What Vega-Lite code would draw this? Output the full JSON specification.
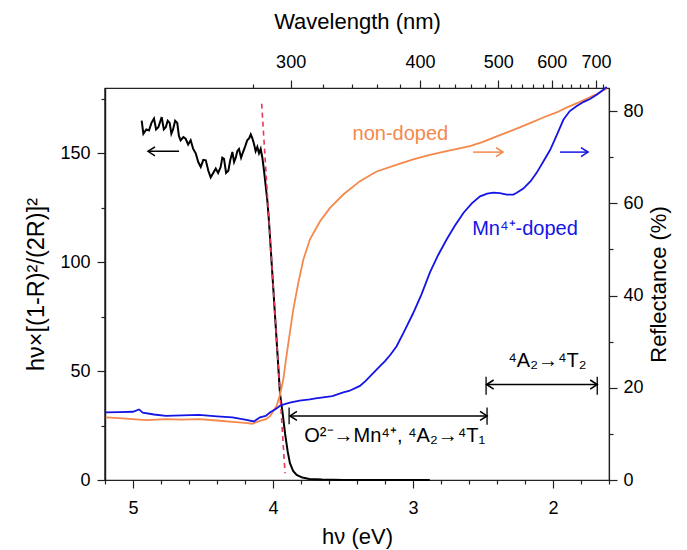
{
  "$schema": "https://vega.github.io/schema/vega-lite/v6.json",
  "width": 504,
  "height": 392,
  "autosize": {"type": "none"},
  "padding": {"left": 105, "top": 88, "right": 78, "bottom": 70},
  "background": "white",
  "config": {
    "view": {"stroke": "#222", "strokeWidth": 1.2},
    "font": "Liberation Sans",
    "axis": {
      "grid": false,
      "domain": true,
      "ticks": true,
      "domainColor": "#222",
      "domainWidth": 1.2,
      "tickColor": "#222",
      "tickWidth": 1.2,
      "tickSize": 8,
      "labelColor": "#000",
      "titleColor": "#000",
      "labelFont": "Liberation Sans",
      "titleFont": "Liberation Sans",
      "labelFontSize": 18,
      "titleFontSize": 22,
      "titleFontWeight": "normal",
      "labelOverlap": false,
      "labelFlush": false
    }
  },
  "datasets": {
    "km": [
      {"E": 4.938, "v": 165}, {"E": 4.926, "v": 159}, {"E": 4.905, "v": 161}, {"E": 4.886, "v": 160.5},
      {"E": 4.868, "v": 164}, {"E": 4.85, "v": 166}, {"E": 4.835, "v": 161}, {"E": 4.819, "v": 162},
      {"E": 4.795, "v": 166.6}, {"E": 4.78, "v": 161}, {"E": 4.766, "v": 162}, {"E": 4.752, "v": 165},
      {"E": 4.738, "v": 164}, {"E": 4.726, "v": 159}, {"E": 4.714, "v": 161}, {"E": 4.699, "v": 165},
      {"E": 4.684, "v": 164}, {"E": 4.672, "v": 158}, {"E": 4.66, "v": 156}, {"E": 4.64, "v": 157.5},
      {"E": 4.624, "v": 156.7}, {"E": 4.606, "v": 154}, {"E": 4.588, "v": 156}, {"E": 4.57, "v": 152},
      {"E": 4.552, "v": 150}, {"E": 4.534, "v": 146}, {"E": 4.516, "v": 143.7}, {"E": 4.498, "v": 147},
      {"E": 4.48, "v": 146.8}, {"E": 4.462, "v": 142}, {"E": 4.445, "v": 139}, {"E": 4.427, "v": 141},
      {"E": 4.409, "v": 143}, {"E": 4.392, "v": 141}, {"E": 4.374, "v": 143.7}, {"E": 4.362, "v": 148},
      {"E": 4.35, "v": 147.5}, {"E": 4.335, "v": 141}, {"E": 4.319, "v": 142}, {"E": 4.305, "v": 147},
      {"E": 4.29, "v": 150.6}, {"E": 4.278, "v": 146}, {"E": 4.266, "v": 148}, {"E": 4.255, "v": 151},
      {"E": 4.243, "v": 152}, {"E": 4.228, "v": 148}, {"E": 4.214, "v": 150.6}, {"E": 4.2, "v": 153},
      {"E": 4.184, "v": 156}, {"E": 4.17, "v": 157}, {"E": 4.159, "v": 158.7}, {"E": 4.148, "v": 157},
      {"E": 4.136, "v": 154.4}, {"E": 4.124, "v": 151}, {"E": 4.112, "v": 152.9}, {"E": 4.1, "v": 150},
      {"E": 4.088, "v": 152}, {"E": 4.076, "v": 148}, {"E": 4.064, "v": 142}, {"E": 4.052, "v": 135},
      {"E": 4.04, "v": 128}, {"E": 4.029, "v": 119}, {"E": 4.01, "v": 100}, {"E": 3.99, "v": 80},
      {"E": 3.97, "v": 60}, {"E": 3.95, "v": 39.7}, {"E": 3.93, "v": 30}, {"E": 3.914, "v": 21.4},
      {"E": 3.895, "v": 13}, {"E": 3.879, "v": 7.7}, {"E": 3.855, "v": 4}, {"E": 3.831, "v": 2.3},
      {"E": 3.79, "v": 1.1}, {"E": 3.74, "v": 0.5}, {"E": 3.65, "v": 0.2}, {"E": 3.5, "v": 0.05},
      {"E": 3.3, "v": 0}, {"E": 2.88, "v": 0}
    ],
    "tangent": [{"E": 4.081, "v": 172.8}, {"E": 3.914, "v": 3.1}],
    "frame": [{"E": 5.2}],
    "kmArrow": [{"s": "km", "E1": 4.671, "E2": 4.893, "v": 150.9, "dir": "left"}],
    "refl": [
      {"s": "non-doped", "E": 5.195, "R": 13.6}, {"s": "non-doped", "E": 5.1, "R": 13.4},
      {"s": "non-doped", "E": 5.005, "R": 13.2}, {"s": "non-doped", "E": 4.9, "R": 13.0},
      {"s": "non-doped", "E": 4.766, "R": 13.2}, {"s": "non-doped", "E": 4.65, "R": 13.1},
      {"s": "non-doped", "E": 4.53, "R": 13.2}, {"s": "non-doped", "E": 4.4, "R": 12.9},
      {"s": "non-doped", "E": 4.29, "R": 12.6}, {"s": "non-doped", "E": 4.2, "R": 12.4},
      {"s": "non-doped", "E": 4.148, "R": 12.2}, {"s": "non-doped", "E": 4.093, "R": 12.8},
      {"s": "non-doped", "E": 4.05, "R": 13.2}, {"s": "non-doped", "E": 4.02, "R": 13.9},
      {"s": "non-doped", "E": 3.974, "R": 16.1}, {"s": "non-doped", "E": 3.95, "R": 18.5},
      {"s": "non-doped", "E": 3.926, "R": 21.9}, {"s": "non-doped", "E": 3.91, "R": 25.5},
      {"s": "non-doped", "E": 3.89, "R": 29.8}, {"s": "non-doped", "E": 3.855, "R": 37},
      {"s": "non-doped", "E": 3.819, "R": 42.8}, {"s": "non-doped", "E": 3.783, "R": 47.8},
      {"s": "non-doped", "E": 3.736, "R": 52.2}, {"s": "non-doped", "E": 3.664, "R": 56.1},
      {"s": "non-doped", "E": 3.593, "R": 59}, {"s": "non-doped", "E": 3.498, "R": 61.9},
      {"s": "non-doped", "E": 3.379, "R": 64.8}, {"s": "non-doped", "E": 3.26, "R": 66.9},
      {"s": "non-doped", "E": 3.093, "R": 68.6}, {"s": "non-doped", "E": 2.998, "R": 69.5},
      {"s": "non-doped", "E": 2.88, "R": 70.5}, {"s": "non-doped", "E": 2.76, "R": 71.3},
      {"s": "non-doped", "E": 2.593, "R": 72.4}, {"s": "non-doped", "E": 2.5, "R": 73.3},
      {"s": "non-doped", "E": 2.402, "R": 74.5}, {"s": "non-doped", "E": 2.3, "R": 75.7},
      {"s": "non-doped", "E": 2.164, "R": 77.4}, {"s": "non-doped", "E": 2.07, "R": 78.6},
      {"s": "non-doped", "E": 1.974, "R": 79.7}, {"s": "non-doped", "E": 1.9, "R": 80.8},
      {"s": "non-doped", "E": 1.807, "R": 82.0}, {"s": "non-doped", "E": 1.7, "R": 83.5},
      {"s": "non-doped", "E": 1.616, "R": 84.9},
      {"s": "Mn-doped", "E": 5.195, "R": 14.65}, {"s": "Mn-doped", "E": 5.1, "R": 14.7},
      {"s": "Mn-doped", "E": 5.0, "R": 14.8}, {"s": "Mn-doped", "E": 4.957, "R": 15.3},
      {"s": "Mn-doped", "E": 4.93, "R": 14.6}, {"s": "Mn-doped", "E": 4.85, "R": 14.2},
      {"s": "Mn-doped", "E": 4.766, "R": 13.9}, {"s": "Mn-doped", "E": 4.65, "R": 14.0},
      {"s": "Mn-doped", "E": 4.53, "R": 14.1}, {"s": "Mn-doped", "E": 4.4, "R": 13.8},
      {"s": "Mn-doped", "E": 4.29, "R": 13.6}, {"s": "Mn-doped", "E": 4.2, "R": 13.1},
      {"s": "Mn-doped", "E": 4.136, "R": 12.7}, {"s": "Mn-doped", "E": 4.093, "R": 13.6},
      {"s": "Mn-doped", "E": 4.052, "R": 13.9}, {"s": "Mn-doped", "E": 4.02, "R": 14.7},
      {"s": "Mn-doped", "E": 3.98, "R": 15.4}, {"s": "Mn-doped", "E": 3.95, "R": 16.1},
      {"s": "Mn-doped", "E": 3.91, "R": 16.5}, {"s": "Mn-doped", "E": 3.879, "R": 16.8},
      {"s": "Mn-doped", "E": 3.81, "R": 17.2}, {"s": "Mn-doped", "E": 3.736, "R": 17.5},
      {"s": "Mn-doped", "E": 3.695, "R": 17.7}, {"s": "Mn-doped", "E": 3.576, "R": 18.2},
      {"s": "Mn-doped", "E": 3.498, "R": 19.0}, {"s": "Mn-doped", "E": 3.457, "R": 19.3},
      {"s": "Mn-doped", "E": 3.379, "R": 20.4}, {"s": "Mn-doped", "E": 3.338, "R": 21.5},
      {"s": "Mn-doped", "E": 3.236, "R": 24.7}, {"s": "Mn-doped", "E": 3.2, "R": 25.8},
      {"s": "Mn-doped", "E": 3.16, "R": 27.2}, {"s": "Mn-doped", "E": 3.117, "R": 29.0},
      {"s": "Mn-doped", "E": 3.06, "R": 32.4}, {"s": "Mn-doped", "E": 3.0, "R": 36.1},
      {"s": "Mn-doped", "E": 2.94, "R": 40.2},
      {"s": "Mn-doped", "E": 2.879, "R": 45}, {"s": "Mn-doped", "E": 2.82, "R": 48.8},
      {"s": "Mn-doped", "E": 2.759, "R": 52.2}, {"s": "Mn-doped", "E": 2.7, "R": 55.2},
      {"s": "Mn-doped", "E": 2.64, "R": 57.9}, {"s": "Mn-doped", "E": 2.58, "R": 60},
      {"s": "Mn-doped", "E": 2.521, "R": 61.5}, {"s": "Mn-doped", "E": 2.47, "R": 62.1},
      {"s": "Mn-doped", "E": 2.426, "R": 62.3}, {"s": "Mn-doped", "E": 2.38, "R": 62.2},
      {"s": "Mn-doped", "E": 2.33, "R": 61.9}, {"s": "Mn-doped", "E": 2.283, "R": 61.9},
      {"s": "Mn-doped", "E": 2.259, "R": 62.3}, {"s": "Mn-doped", "E": 2.212, "R": 63.2},
      {"s": "Mn-doped", "E": 2.16, "R": 64.8}, {"s": "Mn-doped", "E": 2.117, "R": 66.6},
      {"s": "Mn-doped", "E": 2.07, "R": 69}, {"s": "Mn-doped", "E": 2.02, "R": 71.6},
      {"s": "Mn-doped", "E": 1.97, "R": 75}, {"s": "Mn-doped", "E": 1.926, "R": 78.1},
      {"s": "Mn-doped", "E": 1.88, "R": 80.0}, {"s": "Mn-doped", "E": 1.83, "R": 81.1},
      {"s": "Mn-doped", "E": 1.78, "R": 82.0}, {"s": "Mn-doped", "E": 1.736, "R": 82.6},
      {"s": "Mn-doped", "E": 1.68, "R": 83.7}, {"s": "Mn-doped", "E": 1.616, "R": 85.2}
    ],
    "shafts": [
      {"s": "non-doped", "E1": 2.571, "E2": 2.357, "R": 71.1},
      {"s": "Mn-doped", "E1": 1.95, "E2": 1.75, "R": 71.1},
      {"s": "note", "E1": 3.879, "E2": 2.471, "R": 13.9},
      {"s": "note", "E1": 2.474, "E2": 1.684, "R": 20.7}
    ],
    "heads": [
      {"s": "non-doped", "E": 2.357, "R": 71.1, "dir": "right"},
      {"s": "Mn-doped", "E": 1.75, "R": 71.1, "dir": "right"},
      {"s": "note", "E": 3.879, "R": 13.9, "dir": "left"},
      {"s": "note", "E": 2.471, "R": 13.9, "dir": "right"},
      {"s": "note", "E": 2.474, "R": 20.7, "dir": "left"},
      {"s": "note", "E": 1.684, "R": 20.7, "dir": "right"}
    ],
    "bars": [
      {"s": "note", "E": 3.885, "lo": 12.1, "hi": 15.7},
      {"s": "note", "E": 2.471, "lo": 12.0, "hi": 15.7},
      {"s": "note", "E": 2.478, "lo": 18.5, "hi": 22.4},
      {"s": "note", "E": 1.684, "lo": 18.5, "hi": 22.4}
    ],
    "labels": [
      {"t": "non-doped", "E": 3.09, "R": 75, "s": "non-doped"},
      {"t": "Mn⁴⁺-doped", "E": 2.2, "R": 54.5, "s": "Mn-doped"},
      {"t": "O²⁻→Mn⁴⁺, ⁴A₂→⁴T₁", "E": 3.13, "R": 9.5, "s": "note"},
      {"t": "⁴A₂→⁴T₂", "E": 2.04, "R": 25.9, "s": "note"}
    ]
  },
  "layer": [
    {
      "layer": [
        {
          "data": {"name": "km"},
          "mark": {"type": "line", "strokeWidth": 2, "color": "#000000"},
          "encoding": {
            "x": {
              "field": "E", "type": "quantitative",
              "scale": {"domain": [1.6, 5.2], "reverse": true, "nice": false, "zero": false},
              "axis": {
                "orient": "bottom",
                "title": "hν (eV)",
                "values": [5, 4, 3, 2],
                "format": "d",
                "labelOverlap": false,
                "tickSize": 8,
                "labelPadding": 11,
                "titlePadding": 9
              }
            },
            "y": {
              "field": "v", "type": "quantitative",
              "scale": {"domain": [0, 180], "nice": false, "zero": false},
              "axis": {
                "orient": "left",
                "title": "hν×[(1-R)²/(2R)]²",
                "titleFontSize": 23.5,
                "values": [0, 50, 100, 150],
                "labelOverlap": false,
                "domain": true,
                "domainColor": "#111",
                "domainWidth": 1.4,
                "tickSize": 8,
                "labelPadding": 7,
                "titlePadding": 11
              }
            }
          }
        },
        {
          "data": {"name": "frame"},
          "mark": {"type": "rule", "strokeWidth": 1.2, "color": "#222"},
          "encoding": {
            "x": {"field": "E", "type": "quantitative"}
          }
        },
        {
          "data": {"name": "tangent"},
          "mark": {"type": "line", "strokeWidth": 1.6, "strokeDash": [5, 4], "color": "#E8375A"},
          "encoding": {
            "x": {"field": "E", "type": "quantitative"},
            "y": {"field": "v", "type": "quantitative"}
          }
        },
        {
          "data": {"name": "kmArrow"},
          "mark": {"type": "rule", "strokeWidth": 1.5, "color": "#000000"},
          "encoding": {
            "x": {"field": "E1", "type": "quantitative"},
            "x2": {"field": "E2"},
            "y": {"field": "v", "type": "quantitative"}
          }
        },
        {
          "data": {"name": "kmArrow"},
          "mark": {"type": "point", "filled": false, "strokeWidth": 1.5, "size": 196, "opacity": 1, "color": "#000000"},
          "encoding": {
            "x": {"field": "E2", "type": "quantitative"},
            "y": {"field": "v", "type": "quantitative"},
            "shape": {"field": "dir", "type": "nominal", "scale": {"domain": ["left", "right"], "range": ["M1,-0.65L0,0L1,0.65", "M-1,-0.65L0,0L-1,0.65"]}, "legend": null}
          }
        }
      ]
    },
    {
      "layer": [
        {
          "data": {"name": "refl"},
          "mark": {"type": "line", "strokeWidth": 1.8},
          "encoding": {
            "x": {
              "field": "E", "type": "quantitative",
              "scale": {"domain": [1.6, 5.2], "reverse": true, "nice": false, "zero": false},
              "axis": {
                "orient": "top",
                "title": "Wavelength (nm)",
                "values": [3.874, 2.95, 2.391, 2.009, 1.693],
                "labelExpr": "datum.value == 3.874 ? '300' : datum.value == 2.95 ? '400' : datum.value == 2.391 ? '500' : datum.value == 2.009 ? '600' : '700'",
                "labelOverlap": false,
                "tickSize": 8,
                "labelPadding": 9,
                "titlePadding": 20
              }
            },
            "y": {
              "field": "R", "type": "quantitative",
              "scale": {"domain": [0, 85], "nice": false, "zero": false},
              "axis": {
                "orient": "right",
                "title": "Reflectance (%)",
                "titleAngle": 270,
                "titleBaseline": "top",
                "values": [0, 20, 40, 60, 80],
                "labelOverlap": false,
                "tickSize": 8,
                "labelPadding": 6,
                "titlePadding": 5
              }
            },
            "color": {
              "field": "s", "type": "nominal",
              "scale": {"domain": ["non-doped", "Mn-doped", "note"], "range": ["#F5884C", "#1414E6", "#000000"]},
              "legend": null
            }
          }
        },
        {
          "data": {"name": "shafts"},
          "mark": {"type": "rule", "strokeWidth": 1.5},
          "encoding": {
            "x": {"field": "E1", "type": "quantitative"},
            "x2": {"field": "E2"},
            "y": {"field": "R", "type": "quantitative"},
            "color": {"field": "s", "type": "nominal", "legend": null}
          }
        },
        {
          "data": {"name": "bars"},
          "mark": {"type": "rule", "strokeWidth": 1.3},
          "encoding": {
            "x": {"field": "E", "type": "quantitative"},
            "y": {"field": "lo", "type": "quantitative"},
            "y2": {"field": "hi"},
            "color": {"field": "s", "type": "nominal", "legend": null}
          }
        },
        {
          "data": {"name": "heads"},
          "mark": {"type": "point", "filled": false, "strokeWidth": 1.6, "size": 196, "opacity": 1},
          "encoding": {
            "x": {"field": "E", "type": "quantitative"},
            "y": {"field": "R", "type": "quantitative"},
            "color": {"field": "s", "type": "nominal", "legend": null},
            "shape": {"field": "dir", "type": "nominal", "scale": {"domain": ["left", "right"], "range": ["M1,-0.65L0,0L1,0.65", "M-1,-0.65L0,0L-1,0.65"]}, "legend": null}
          }
        },
        {
          "data": {"name": "labels"},
          "mark": {"type": "text", "font": "Liberation Sans", "fontSize": 20, "align": "center", "baseline": "middle"},
          "encoding": {
            "x": {"field": "E", "type": "quantitative"},
            "y": {"field": "R", "type": "quantitative"},
            "text": {"field": "t"},
            "color": {"field": "s", "type": "nominal", "legend": null}
          }
        }
      ]
    },
    {
      "data": {"name": "tangent"},
      "mark": {"type": "point", "opacity": 0},
      "encoding": {
        "x": {
          "field": "E", "type": "quantitative",
          "scale": {"domain": [1.6, 5.2], "reverse": true, "nice": false, "zero": false},
          "axis": {
            "orient": "bottom", "title": null, "labels": false, "domain": false, "tickSize": 4,
            "values": [5.2, 4.8, 4.6, 4.4, 4.2, 3.8, 3.6, 3.4, 3.2, 2.8, 2.6, 2.4, 2.2, 1.8, 1.6]
          }
        },
        "y": {
          "field": "v", "type": "quantitative",
          "scale": {"domain": [0, 180], "nice": false, "zero": false},
          "axis": {"orient": "left", "title": null, "labels": false, "domain": false, "tickSize": 4, "values": [25, 75, 125, 175]}
        }
      }
    },
    {
      "data": {"name": "tangent"},
      "mark": {"type": "point", "opacity": 0},
      "encoding": {
        "x": {
          "field": "E", "type": "quantitative",
          "scale": {"domain": [1.6, 5.2], "reverse": true, "nice": false, "zero": false},
          "axis": {
            "orient": "top", "title": null, "labels": false, "domain": false, "tickSize": 4,
            "values": [4.14, 3.641, 3.437, 3.257, 3.096, 2.817, 2.697, 2.587, 2.486, 2.303, 2.221, 2.145, 2.075, 1.938, 1.871, 1.808, 1.749, 1.64]
          }
        },
        "y": {
          "field": "v", "type": "quantitative",
          "scale": {"domain": [0, 85], "nice": false, "zero": false},
          "axis": {"orient": "right", "title": null, "labels": false, "domain": false, "tickSize": 4, "values": [10, 30, 50, 70]}
        }
      }
    }
  ],
  "resolve": {
    "scale": {"y": "independent"},
    "axis": {"x": "independent", "y": "independent"}
  }
}
